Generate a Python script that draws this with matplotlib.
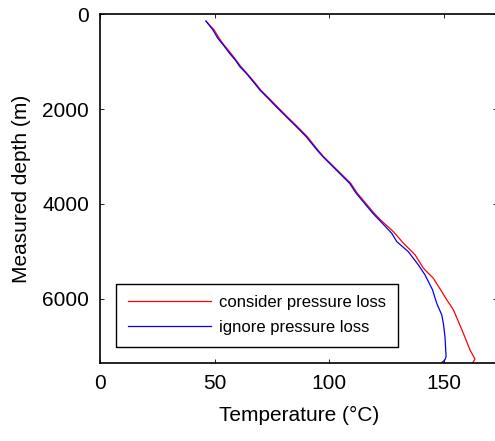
import matplotlib.pyplot as plt
import numpy as np

plt.rcParams['font.family'] = ['Liberation Sans', 'DejaVu Sans']

# consider pressure loss
depth_consider = [147, 337, 512, 653, 828, 968, 1109, 1249, 1460, 1600, 1775, 1951,
                  2162, 2372, 2583, 2863, 3004, 3564, 3775, 4200, 4340, 4583, 4827,
                  5074, 5354, 5564, 5846, 6021, 6232, 6723, 7074, 7270, 7345]
temp_consider = [46.2, 49.8, 52.0, 54.1, 57.1, 59.3, 61.5, 64.1, 67.8, 70.1, 73.7, 77.3,
                 81.6, 86.1, 90.4, 95.0, 97.5, 109.3, 112.2, 119.6, 122.4, 127.9, 132.3,
                 137.4, 141.0, 145.3, 149.0, 151.2, 154.1, 158.4, 161.3, 163.5, 162.5]

# ignore pressure loss
depth_ignore = [147, 337, 512, 653, 828, 968, 1109, 1249, 1460, 1600, 1775, 1951,
                2162, 2372, 2583, 2863, 3004, 3564, 3775, 4200, 4340, 4617, 4794,
                5004, 5284, 5495, 5811, 5985, 6091, 6337, 6512, 6794, 7215, 7285, 7345]
temp_ignore = [46.2, 49.3, 51.4, 53.8, 56.5, 59.0, 61.0, 63.8, 67.4, 69.7, 73.3, 76.8,
               81.2, 85.6, 89.9, 94.6, 97.2, 108.8, 111.7, 119.0, 121.8, 127.2, 129.4,
               134.4, 138.8, 141.7, 145.0, 146.1, 146.8, 149.0, 149.7, 150.4, 150.9, 150.4, 149.0]

fig = plt.figure(figsize=(4.95, 4.41), dpi=100)
ax = fig.add_axes([0.202, 0.177, 0.803, 0.791])

ax.plot(temp_consider, depth_consider, color='red', lw=0.9, label='consider pressure loss')
ax.plot(temp_ignore, depth_ignore, color='blue', lw=0.9, label='ignore pressure loss')

ax.set_xlim(0, 173.3)
ax.set_ylim(7350, 0)
ax.set_xticks([0, 50, 100, 150])
ax.set_yticks([0, 2000, 4000, 6000])
ax.tick_params(direction='in', length=3, width=0.6, top=True, right=True,
               labelsize=15, pad=8)
for s in ax.spines.values():
    s.set_linewidth(1.2)

ax.set_xlabel('Temperature (°C)', fontsize=15, labelpad=9)
ax.set_ylabel('Measured depth (m)', fontsize=15, labelpad=8)

leg = ax.legend(loc='lower left', fontsize=12, frameon=True, fancybox=False,
                edgecolor='black', framealpha=1, handlelength=5.0, handletextpad=0.5,
                borderpad=0.7, labelspacing=0.6, bbox_to_anchor=(0.04, 0.046),
                borderaxespad=0)
leg.get_frame().set_linewidth(1.0)

fig.savefig('out.png', dpi=100)
